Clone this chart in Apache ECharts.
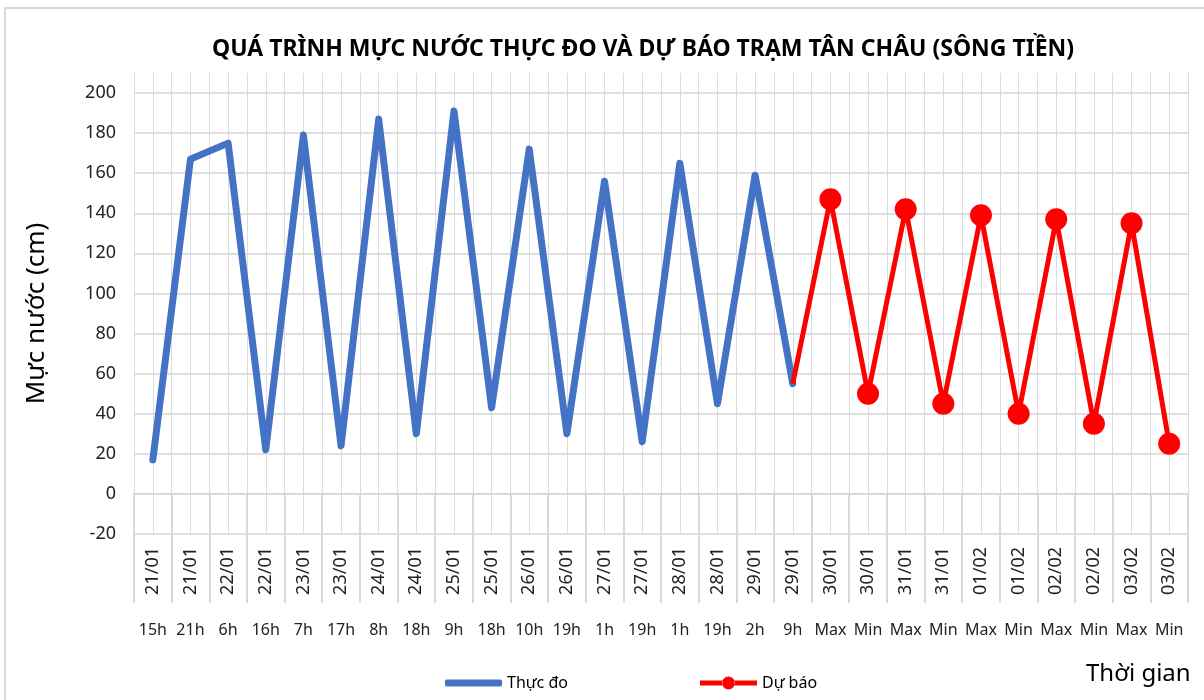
<!DOCTYPE html>
<html>
<head>
<meta charset="utf-8">
<script src="https://cdn.jsdelivr.net/npm/echarts@6/dist/echarts.min.js"></script>
<style>
  html, body { margin: 0; padding: 0; background: #fff; }
  #main { width: 1204px; height: 700px; }
</style>
</head>
<body>
<div id="main"></div>
<script>
// nhãn trục hoành: ngày (xoay dọc) và giờ
var dateLabels = ['21/01','21/01','22/01','22/01','23/01','23/01','24/01','24/01','25/01','25/01',
                  '26/01','26/01','27/01','27/01','28/01','28/01','29/01','29/01',
                  '30/01','30/01','31/01','31/01','01/02','01/02','02/02','02/02','03/02','03/02'];
var hourLabels = ['15h','21h','6h','16h','7h','17h','8h','18h','9h','18h',
                  '10h','19h','1h','19h','1h','19h','2h','9h',
                  'Max','Min','Max','Min','Max','Min','Max','Min','Max','Min'];
// mực nước thực đo (cm)
var thucDo = [17, 167, 175, 22, 179, 24, 187, 30, 191, 43, 172, 30, 156, 26, 165, 45, 159, 55];
// mực nước dự báo (cm), bắt đầu từ điểm thực đo cuối
var duBao = [55, 147, 50, 142, 45, 139, 40, 137, 35, 135, 25];
var duBaoStart = 17;
var yTicks = { min: -20, max: 200, step: 20 };

var fnt = '"Noto Sans", "Open Sans", sans-serif';

var seriesThucDo = dateLabels.map(function (d, i) { return i < thucDo.length ? thucDo[i] : null; });
var seriesDuBao = dateLabels.map(function (d, i) {
    var k = i - duBaoStart;
    if (k < 0 || k >= duBao.length) return null;
    if (k === 0) return { value: duBao[k], symbol: 'none' };
    return duBao[k];
});
// lưới dọc: mỗi nửa ô một vạch
var halfCells = [];
for (var i = 0; i < dateLabels.length * 2; i++) halfCells.push('');

var legendText = { fontFamily: fnt, fontSize: 16, color: '#000' };

var myChart = echarts.init(document.getElementById('main'));
var option = {
    backgroundColor: '#fff',
    animation: false,
    title: {
        text: 'QUÁ TRÌNH MỰC NƯỚC THỰC ĐO VÀ DỰ BÁO TRẠM TÂN CHÂU (SÔNG TIỀN)',
        left: 638, top: 33, textAlign: 'center',
        textStyle: { fontFamily: fnt, fontSize: 23, fontWeight: 'bold', color: '#000' }
    },
    legend: [
        {
            left: 440, top: 670, itemWidth: 57, itemHeight: 7, itemGap: 4,
            icon: 'roundRect', textStyle: legendText,
            data: [{ name: 'Thực đo', itemStyle: { color: '#4472C4' } }]
        },
        {
            left: 695, top: 670, itemWidth: 57, itemHeight: 13, itemGap: 4,
            icon: 'path://M0,4H22.5V9H0Z M34.5,4H57V9H34.5Z M22,6.5a6.5,6.5 0 1,0 13,0a6.5,6.5 0 1,0 -13,0Z',
            textStyle: legendText,
            data: [{ name: 'Dự báo', itemStyle: { color: '#FF0000' } }]
        }
    ],
    graphic: [
        { type: 'rect', shape: { x: 5, y: 8, width: 1230, height: 720 },
          style: { fill: 'none', stroke: '#d9d9d9', lineWidth: 2 }, silent: true },
        { type: 'text', left: 1086, top: 662,
          style: { text: 'Thời gian', fontFamily: fnt, fontSize: 24, fill: '#000' } }
    ],
    grid: [
        { left: 134, right: 16, top: 93, bottom: 166 },
        { left: 134, right: 16, top: 73, bottom: 166 }
    ],
    xAxis: [
        {
            type: 'category', gridIndex: 0, data: dateLabels, boundaryGap: true,
            axisLine: { lineStyle: { color: '#d9d9d9', width: 2 } },
            axisTick: { show: true, length: 109, interval: 0, lineStyle: { color: '#d9d9d9', width: 2 } },
            axisLabel: { interval: 0, rotate: 90, margin: 13, fontFamily: fnt, fontSize: 18, color: '#222' },
            splitLine: { show: false }
        },
        {
            type: 'category', gridIndex: 0, data: hourLabels, position: 'bottom', boundaryGap: true,
            axisLine: { show: false }, axisTick: { show: false },
            axisLabel: { interval: 0, margin: 88, fontFamily: fnt, fontSize: 16, color: '#222' },
            splitLine: { show: false }
        },
        {
            type: 'category', gridIndex: 1, data: halfCells, boundaryGap: true,
            axisLine: { show: false }, axisTick: { show: false }, axisLabel: { show: false },
            splitLine: { show: true, interval: 0, lineStyle: { color: '#dcdcdc', width: 1 } }
        }
    ],
    yAxis: [
        {
            type: 'value', gridIndex: 0, min: yTicks.min, max: yTicks.max, interval: yTicks.step,
            name: 'Mực nước (cm)', nameLocation: 'middle', nameGap: 84, nameRotate: 90,
            nameTextStyle: { fontFamily: fnt, fontSize: 26, color: '#000' },
            axisLine: { show: false }, axisTick: { show: false },
            axisLabel: { margin: 18, fontFamily: fnt, fontSize: 18, color: '#222' },
            splitLine: { lineStyle: { color: '#d4d4d4', width: 1.5 } }
        },
        {
            type: 'value', gridIndex: 1, show: false, splitLine: { show: false }
        }
    ],
    series: [
        {
            name: 'Thực đo', type: 'line', xAxisIndex: 0, yAxisIndex: 0,
            data: seriesThucDo, symbol: 'none', connectNulls: false,
            color: '#4472C4',
            lineStyle: { color: '#4472C4', width: 7, cap: 'round', join: 'round' }
        },
        {
            name: 'Dự báo', type: 'line', xAxisIndex: 0, yAxisIndex: 0,
            data: seriesDuBao, symbol: 'circle', symbolSize: 22,
            color: '#FF0000',
            itemStyle: { color: '#FF0000' },
            lineStyle: { color: '#FF0000', width: 5, join: 'round' }
        }
    ]
};
myChart.setOption(option);
</script>
</body>
</html>
